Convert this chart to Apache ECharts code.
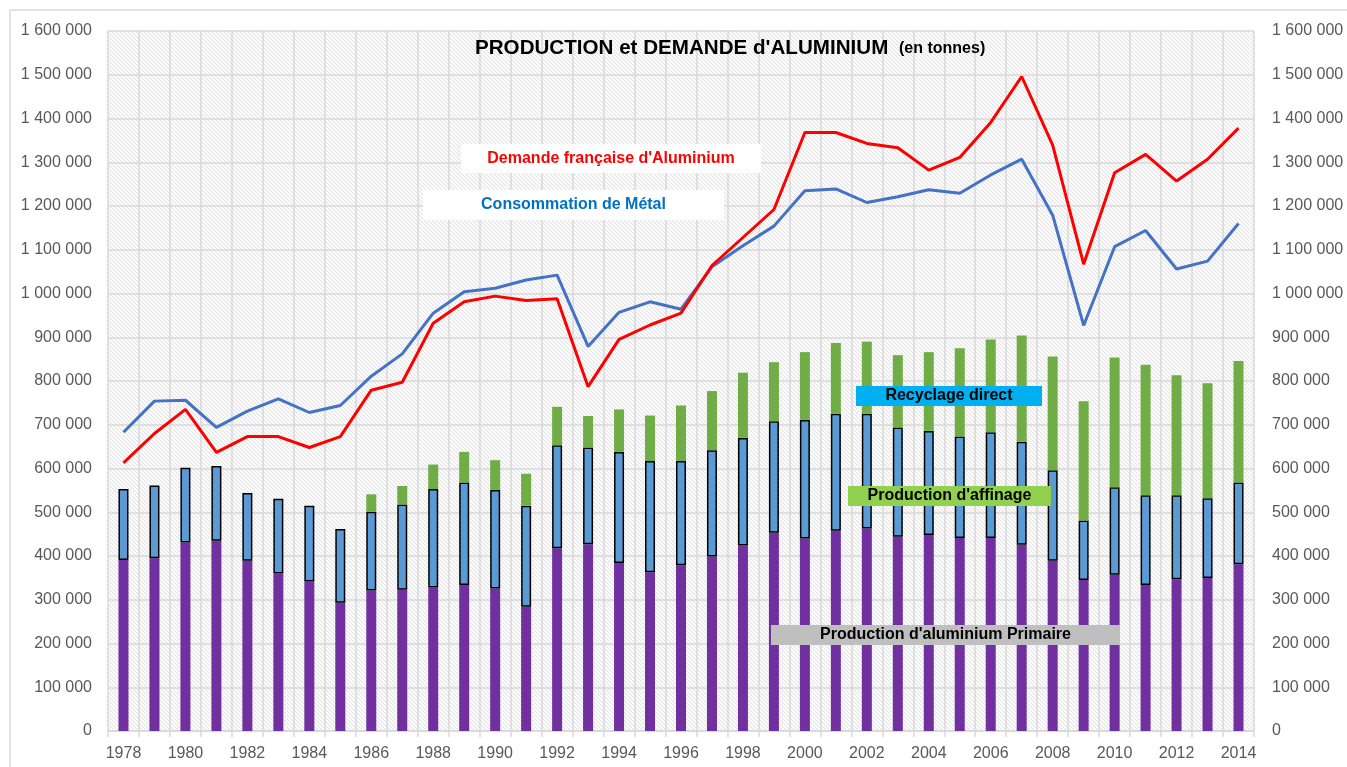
<!DOCTYPE html>
<html>
<head>
<meta charset="utf-8">
<title>Production et demande d'aluminium</title>
<script src="https://cdn.jsdelivr.net/npm/echarts@6.0.0/dist/echarts.min.js"></script>
<style>
  html, body { margin: 0; padding: 0; background: #fff; }
  #myChart { width: 1347px; height: 767px; }
</style>
</head>
<body>
<div id="myChart"></div>
<script>
const years = [
  '1978', '1979', '1980', '1981', '1982', '1983', '1984', '1985', '1986', '1987',
  '1988', '1989', '1990', '1991', '1992', '1993', '1994', '1995', '1996', '1997',
  '1998', '1999', '2000', '2001', '2002', '2003', '2004', '2005', '2006', '2007',
  '2008', '2009', '2010', '2011', '2012', '2013', '2014',
];
// production d'aluminium primaire (violet)
const primaire = [
  391000, 395000, 431000, 435000, 389000, 360000, 342000, 293000, 321000, 323000,
  328000, 334000, 326000, 284000, 418000, 427000, 384000, 363000, 379000, 399000,
  424000, 453000, 440000, 458000, 463000, 444000, 448000, 441000, 441000, 426000,
  389000, 345000, 357000, 334000, 347000, 350000, 381000,
];
// production d'affinage (bleu)
const affinage = [
  162000, 166000, 171000, 171000, 155000, 171000, 173000, 169000, 180000, 195000,
  225000, 234000, 225000, 231000, 235000, 221000, 254000, 254000, 238000, 243000,
  246000, 255000, 271000, 267000, 262000, 250000, 238000, 232000, 242000, 235000,
  207000, 136000, 200000, 205000, 192000, 182000, 187000,
];
// recyclage direct (vert)
const recyclage = [
  null, null, null, null, null, null, null, null, 40000, 42000,
  56000, 70000, 68000, 73000, 88000, 72000, 97000, 104000, 127000, 135000,
  149000, 135000, 155000, 162000, 165000, 165000, 180000, 202000, 212000, 243000,
  260000, 273000, 297000, 298000, 274000, 263000, 278000,
];
const demande = [
  613000, 680000, 735000, 637000, 673000, 673000, 648000, 673000, 779000, 797000,
  932000, 981000, 994000, 984000, 988000, 787000, 895000, 928000, 955000, 1064000,
  1128000, 1192000, 1368000, 1368000, 1343000, 1333000, 1282000, 1311000, 1391000, 1496000,
  1339000, 1067000, 1276000, 1318000, 1257000, 1307000, 1378000,
];
const consommation = [
  683000, 754000, 756000, 694000, 731000, 759000, 728000, 744000, 811000, 862000,
  955000, 1004000, 1012000, 1031000, 1042000, 879000, 957000, 981000, 964000, 1061000,
  1109000, 1154000, 1235000, 1239000, 1208000, 1221000, 1237000, 1229000, 1271000, 1307000,
  1179000, 927000, 1107000, 1144000, 1056000, 1074000, 1160000,
];

// fond hachuré de la zone de tracé
const hatch = document.createElement('canvas');
hatch.width = 4;
hatch.height = 4;
const hctx = hatch.getContext('2d');
hctx.fillStyle = '#fafafa';
hctx.fillRect(0, 0, 4, 4);
hctx.strokeStyle = '#e2e2e2';
hctx.lineWidth = 1;
hctx.beginPath();
hctx.moveTo(0, 0);
hctx.lineTo(4, 4);
hctx.stroke();

const fmt = (v) => String(v).replace(/\B(?=(\d{3})+(?!\d))/g, ' ');
const axisFont = {
  color: '#595959',
  fontSize: 16,
  fontFamily: 'Liberation Sans',
};

function box(x, y, w, h, fill, label, color) {
  return {
    type: 'group',
    z: 100,
    children: [
      {
        type: 'rect',
        z: 100,
        shape: { x: x, y: y, width: w, height: h },
        style: { fill: fill },
      },
      {
        type: 'text',
        z: 101,
        style: {
          text: label,
          x: x + w / 2,
          y: y + h / 2,
          align: 'center',
          verticalAlign: 'middle',
          fill: color,
          fontSize: 16,
          fontWeight: 'bold',
          fontFamily: 'Liberation Sans',
        },
      },
    ],
  };
}

const mychart = echarts.init(document.getElementById('myChart'));
const options = {
  animation: false,
  backgroundColor: '#fff',
  grid: {
    left: 108,
    right: 93,
    top: 31,
    bottom: 36,
    show: true,
    backgroundColor: { image: hatch, repeat: 'repeat' },
    borderWidth: 0,
  },
  xAxis: {
    type: 'category',
    data: years,
    axisLine: { lineStyle: { color: '#d9d9d9', width: 1.5 } },
    axisTick: { show: true, interval: 0, length: 6, lineStyle: { color: '#d9d9d9', width: 1.5 } },
    splitLine: { show: true, interval: 0, lineStyle: { color: '#d9d9d9', width: 1.5 } },
    axisLabel: Object.assign({ interval: 1, margin: 15 }, axisFont),
  },
  yAxis: [
    {
      type: 'value',
      min: 0,
      max: 1600000,
      interval: 100000,
      axisLine: { show: false },
      axisTick: { show: false },
      splitLine: { lineStyle: { color: '#d9d9d9', width: 1.5 } },
      axisLabel: Object.assign({ margin: 16, formatter: fmt }, axisFont),
    },
    {
      type: 'value',
      position: 'right',
      min: 0,
      max: 1600000,
      interval: 100000,
      axisLine: { show: false },
      axisTick: { show: false },
      splitLine: { show: false },
      axisLabel: Object.assign({ margin: 18, formatter: fmt }, axisFont),
    },
  ],
  series: [
    {
      name: "Production d'aluminium Primaire",
      type: 'bar',
      stack: 'prod',
      barWidth: 10,
      data: primaire,
      itemStyle: { color: '#7030a0' },
    },
    {
      name: "Production d'affinage",
      type: 'bar',
      stack: 'prod',
      barWidth: 10,
      data: affinage,
      itemStyle: { color: '#5b9bd5', borderColor: '#000', borderWidth: 1.5 },
    },
    {
      name: 'Recyclage direct',
      type: 'bar',
      stack: 'prod',
      barWidth: 10,
      data: recyclage,
      itemStyle: { color: '#70ad47' },
    },
    {
      name: 'Consommation de Métal',
      type: 'line',
      data: consommation,
      symbol: 'none',
      lineStyle: { color: '#4472c4', width: 3 },
      z: 5,
    },
    {
      name: "Demande française d'Aluminium",
      type: 'line',
      data: demande,
      symbol: 'none',
      lineStyle: { color: '#ff0000', width: 3 },
      z: 6,
    },
  ],
  graphic: [
    {
      type: 'rect',
      z: -1,
      shape: { x: 10, y: 10, width: 1400, height: 800 },
      style: { fill: 'none', stroke: '#d9d9d9', lineWidth: 1.5 },
    },
    {
      type: 'text',
      z: 100,
      style: {
        text: "PRODUCTION et DEMANDE d'ALUMINIUM",
        x: 475,
        y: 48,
        verticalAlign: 'middle',
        fill: '#000',
        fontSize: 20.6,
        fontWeight: 'bold',
        fontFamily: 'Liberation Sans',
      },
    },
    {
      type: 'text',
      z: 100,
      style: {
        text: '(en tonnes)',
        x: 899,
        y: 49,
        verticalAlign: 'middle',
        fill: '#000',
        fontSize: 16,
        fontWeight: 'bold',
        fontFamily: 'Liberation Sans',
      },
    },
    box(461, 144, 300, 29, '#fff', "Demande française d'Aluminium", '#ff0000'),
    box(423, 190, 301, 30, '#fff', 'Consommation de Métal', '#0070c0'),
    box(856, 386, 186, 20, '#00b0f0', 'Recyclage direct', '#000'),
    box(848, 486, 203, 20, '#92d050', "Production d'affinage", '#000'),
    box(771, 625, 349, 20, '#bfbfbf', "Production d'aluminium Primaire", '#000'),
  ],
};
mychart.setOption(options);
</script>
</body>
</html>
